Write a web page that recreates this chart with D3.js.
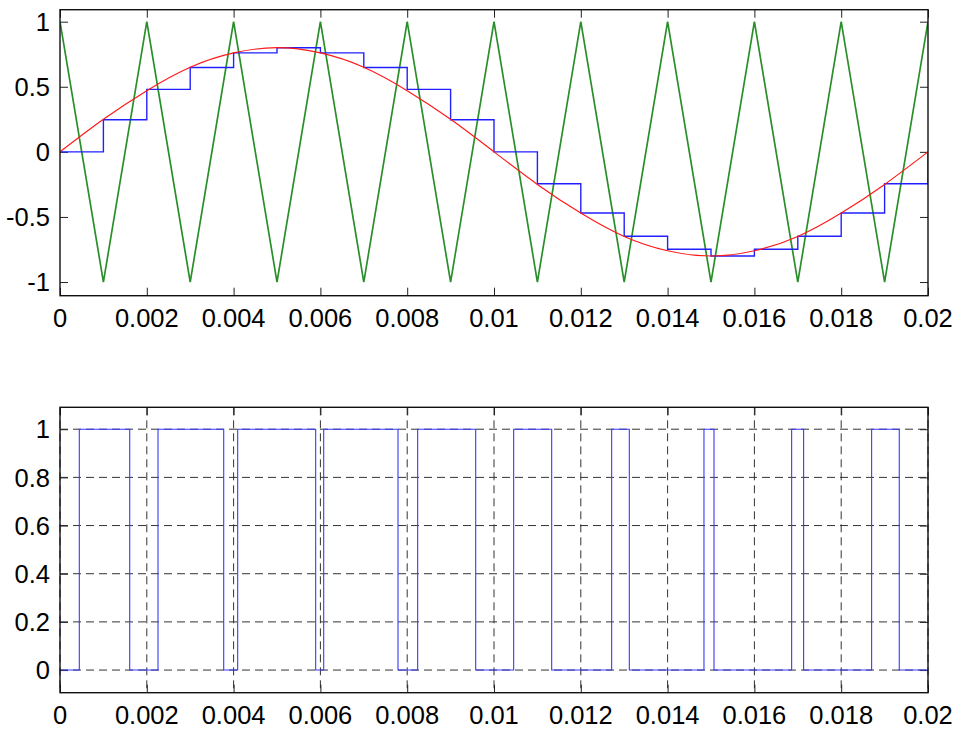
<!DOCTYPE html>
<html>
<head>
<meta charset="utf-8">
<script src="https://cdn.jsdelivr.net/npm/d3@7"></script>
<style>
  html, body { margin: 0; padding: 0; background: #fff; }
  svg { display: block; }
  text { font-family: "Liberation Sans", Arial, Helvetica, sans-serif; font-size: 25.5px; fill: #000; }
</style>
</head>
<body>
<svg id="chart" width="958" height="729"></svg>
<script>
// ---------------- DATA ----------------
// time ticks (s)
const xTicks = [0, 0.002, 0.004, 0.006, 0.008, 0.01, 0.012, 0.014, 0.016, 0.018, 0.02];
const xTickLabels = ["0", "0.002", "0.004", "0.006", "0.008", "0.01", "0.012", "0.014", "0.016", "0.018", "0.02"];
const topYTicks = [-1, -0.5, 0, 0.5, 1];
const topYTickLabels = ["-1", "-0.5", "0", "0.5", "1"];
const botYTicks = [0, 0.2, 0.4, 0.6, 0.8, 1];
const botYTickLabels = ["0", "0.2", "0.4", "0.6", "0.8", "1"];

// triangular carrier (green): vertices
const carrierT = [0, 0.001, 0.002, 0.003, 0.004, 0.005, 0.006, 0.007, 0.008, 0.009, 0.01,
                  0.011, 0.012, 0.013, 0.014, 0.015, 0.016, 0.017, 0.018, 0.019, 0.02];
const carrierV = [1, -1, 1, -1, 1, -1, 1, -1, 1, -1, 1, -1, 1, -1, 1, -1, 1, -1, 1, -1, 1];

// reference sine (red), read at 1 ms points
const refT = [0, 0.001, 0.002, 0.003, 0.004, 0.005, 0.006, 0.007, 0.008, 0.009, 0.01,
              0.011, 0.012, 0.013, 0.014, 0.015, 0.016, 0.017, 0.018, 0.019, 0.02];
const refV = [0, 0.25, 0.47, 0.65, 0.76, 0.8, 0.76, 0.65, 0.47, 0.25, 0,
              -0.25, -0.47, -0.65, -0.76, -0.8, -0.76, -0.65, -0.47, -0.25, 0];

// sample-and-hold staircase (blue)
const holdT = [0, 0.001, 0.002, 0.003, 0.004, 0.005, 0.006, 0.007, 0.008, 0.009, 0.01,
               0.011, 0.012, 0.013, 0.014, 0.015, 0.016, 0.017, 0.018, 0.019, 0.02];
const holdV = [0, 0.247, 0.48, 0.648, 0.76, 0.8, 0.76, 0.648, 0.48, 0.247, 0,
               -0.245, -0.47, -0.648, -0.748, -0.8, -0.748, -0.648, -0.47, -0.245, 0];

// PWM pulse edges (bottom plot)
const pwmRise = [0.000445, 0.002258, 0.004094, 0.006076, 0.008241, 0.010453, 0.012711, 0.014838, 0.016858, 0.018701];
const pwmFall = [0.001606, 0.003772, 0.005891, 0.007788, 0.009578, 0.011329, 0.013118, 0.015069, 0.017134, 0.019338];

// ---------------- DRAWING ----------------
const svg = d3.select("#chart");
const X0 = 60, X1 = 928;

function panel(top, bottom, yDomain, yTicks, yLabels, grid) {
  const x = d3.scaleLinear().domain([0, 0.02]).range([X0, X1]);
  const y = d3.scaleLinear().domain(yDomain).range([bottom, top]);
  const g = svg.append("g");

  if (grid) {
    g.append("g").selectAll("line.gx").data(xTicks).join("line")
      .attr("x1", d => x(d)).attr("x2", d => x(d))
      .attr("y1", top).attr("y2", bottom)
      .attr("stroke", "#333").attr("stroke-width", 1).attr("stroke-dasharray", "8,5");
    g.append("g").selectAll("line.gy").data(yTicks).join("line")
      .attr("x1", X0).attr("x2", X1)
      .attr("y1", d => y(d)).attr("y2", d => y(d))
      .attr("stroke", "#333").attr("stroke-width", 1).attr("stroke-dasharray", "8,5");
  }

  const axB = d3.axisBottom(x).tickValues(xTicks).tickSize(-8).tickFormat("");
  const axT = d3.axisTop(x).tickValues(xTicks).tickSize(-8).tickFormat("");
  const axL = d3.axisLeft(y).tickValues(yTicks).tickSize(-8).tickFormat("");
  const axR = d3.axisRight(y).tickValues(yTicks).tickSize(-8).tickFormat("");
  [[axB, `translate(0,${bottom})`], [axT, `translate(0,${top})`],
   [axL, `translate(${X0},0)`], [axR, `translate(${X1},0)`]].forEach(([ax, tr]) => {
    const a = g.append("g").attr("transform", tr).call(ax);
    a.select(".domain").remove();
    a.selectAll(".tick line").attr("stroke", "#222").attr("stroke-width", 1);
  });

  // labels
  g.append("g").selectAll("text").data(xTicks).join("text")
    .attr("x", d => x(d)).attr("y", bottom + 31)
    .attr("text-anchor", "middle")
    .text((d, i) => xTickLabels[i]);
  g.append("g").selectAll("text").data(yTicks).join("text")
    .attr("x", X0 - 10).attr("y", d => y(d)).attr("dy", "0.36em")
    .attr("text-anchor", "end")
    .text((d, i) => yLabels[i]);

  return { g, x, y, top, bottom };
}

function frame(p) {
  p.g.append("rect").attr("x", X0).attr("y", p.top)
    .attr("width", X1 - X0).attr("height", p.bottom - p.top)
    .attr("fill", "none").attr("stroke", "#111").attr("stroke-width", 1.4);
}

// ---- Top panel ----
const p1 = panel(9.7, 295.7, [-1.105, 1.092], topYTicks, topYTickLabels, false);
const clip1 = svg.append("clipPath").attr("id", "clip1").append("rect")
  .attr("x", X0).attr("y", p1.top).attr("width", X1 - X0).attr("height", p1.bottom - p1.top);
const plot1 = p1.g.append("g").attr("clip-path", "url(#clip1)");

const carrier = carrierT.map((t, i) => [t, carrierV[i]]);
plot1.append("path").datum(carrier)
  .attr("fill", "none").attr("stroke", "#2a8f2a").attr("stroke-width", 1.7)
  .attr("stroke-linejoin", "miter")
  .attr("d", d3.line().x(d => p1.x(d[0])).y(d => p1.y(d[1])));

const hold = holdT.map((t, i) => [t, holdV[i]]);
plot1.append("path").datum(hold)
  .attr("fill", "none").attr("stroke", "#2020ff").attr("stroke-width", 1.4)
  .attr("d", d3.line().curve(d3.curveStepAfter).x(d => p1.x(d[0])).y(d => p1.y(d[1] )));

const ref = refT.map((t, i) => [t, refV[i]]);
plot1.append("path").datum(ref)
  .attr("fill", "none").attr("stroke", "#ff1a1a").attr("stroke-width", 1.2)
  .attr("d", d3.line().curve(d3.curveNatural).x(d => p1.x(d[0])).y(d => p1.y(d[1])));

frame(p1);

// ---- Bottom panel ----
const p2 = panel(407.3, 692.7, [-0.094, 1.091], botYTicks, botYTickLabels, true);
const pwm = [[0, 0]];
pwmRise.forEach((r, i) => { pwm.push([r, 1]); pwm.push([pwmFall[i], 0]); });
pwm.push([0.02, 0]);
p2.g.append("path").datum(pwm)
  .attr("fill", "none").attr("stroke", "#3a3aff").attr("stroke-width", 1.1)
  .attr("d", d3.line().curve(d3.curveStepAfter).x(d => p2.x(d[0])).y(d => p2.y(d[1])));
frame(p2);
</script>
</body>
</html>
